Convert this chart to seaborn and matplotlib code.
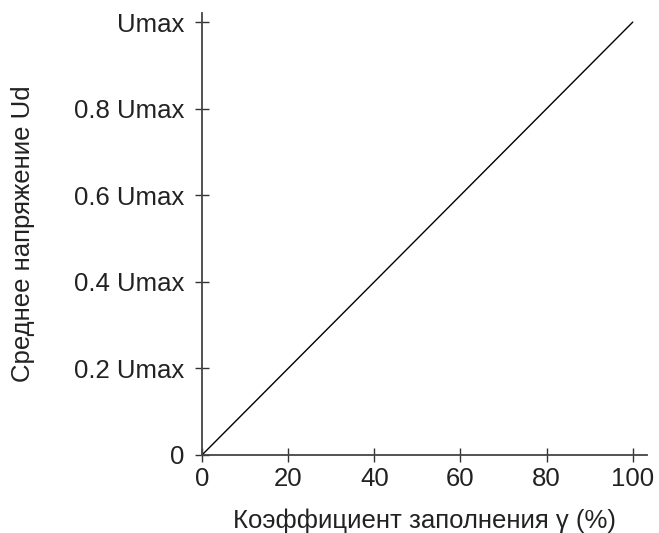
import numpy as np
import pandas as pd
import matplotlib
matplotlib.use("Agg")
import matplotlib.pyplot as plt
import seaborn as sns

# duty cycle (%) vs average voltage (fraction of Umax)
duty = [0, 100]
voltage = [0.0, 1.0]

x_ticks = [0, 20, 40, 60, 80, 100]
y_ticks = [0.0, 0.2, 0.4, 0.6, 0.8, 1.0]
y_labels = ["0", "0.2 Umax", "0.4 Umax", "0.6 Umax", "0.8 Umax", "Umax"]

sns.set_style("ticks")
plt.rcParams["font.family"] = ["Liberation Sans", "DejaVu Sans"]

df = pd.DataFrame({"duty": duty, "voltage": voltage})

fig = plt.figure(figsize=(6.59, 5.33), dpi=100)
ax = fig.add_axes([202 / 659, 78 / 533, (647 - 202) / 659, (455 - 13) / 533])

sns.lineplot(data=df, x="duty", y="voltage", color="black", linewidth=1.0, ax=ax)

ax.set_xlim(0, 103.3)
ax.set_ylim(0, 1.021)
ax.set_xticks(x_ticks)
ax.set_yticks(y_ticks)
ax.set_yticklabels(y_labels)

txt = "#222222"
ax.tick_params(direction="inout", length=10, width=1, color="#333333",
               labelsize=18.5, labelcolor=txt)
ax.tick_params(axis="x", pad=4)
ax.tick_params(axis="y", pad=8)
for s in ["top", "right"]:
    ax.spines[s].set_visible(False)
for s in ["left", "bottom"]:
    ax.spines[s].set_color("#444444")
    ax.spines[s].set_linewidth(1.3)

ax.set_xlabel("Коэффициент заполнения γ (%)", fontsize=18.5, color=txt, labelpad=12)
ax.set_ylabel("Среднее напряжение Ud", fontsize=18.5, color=txt, labelpad=28)

fig.savefig("out.png", dpi=100)
